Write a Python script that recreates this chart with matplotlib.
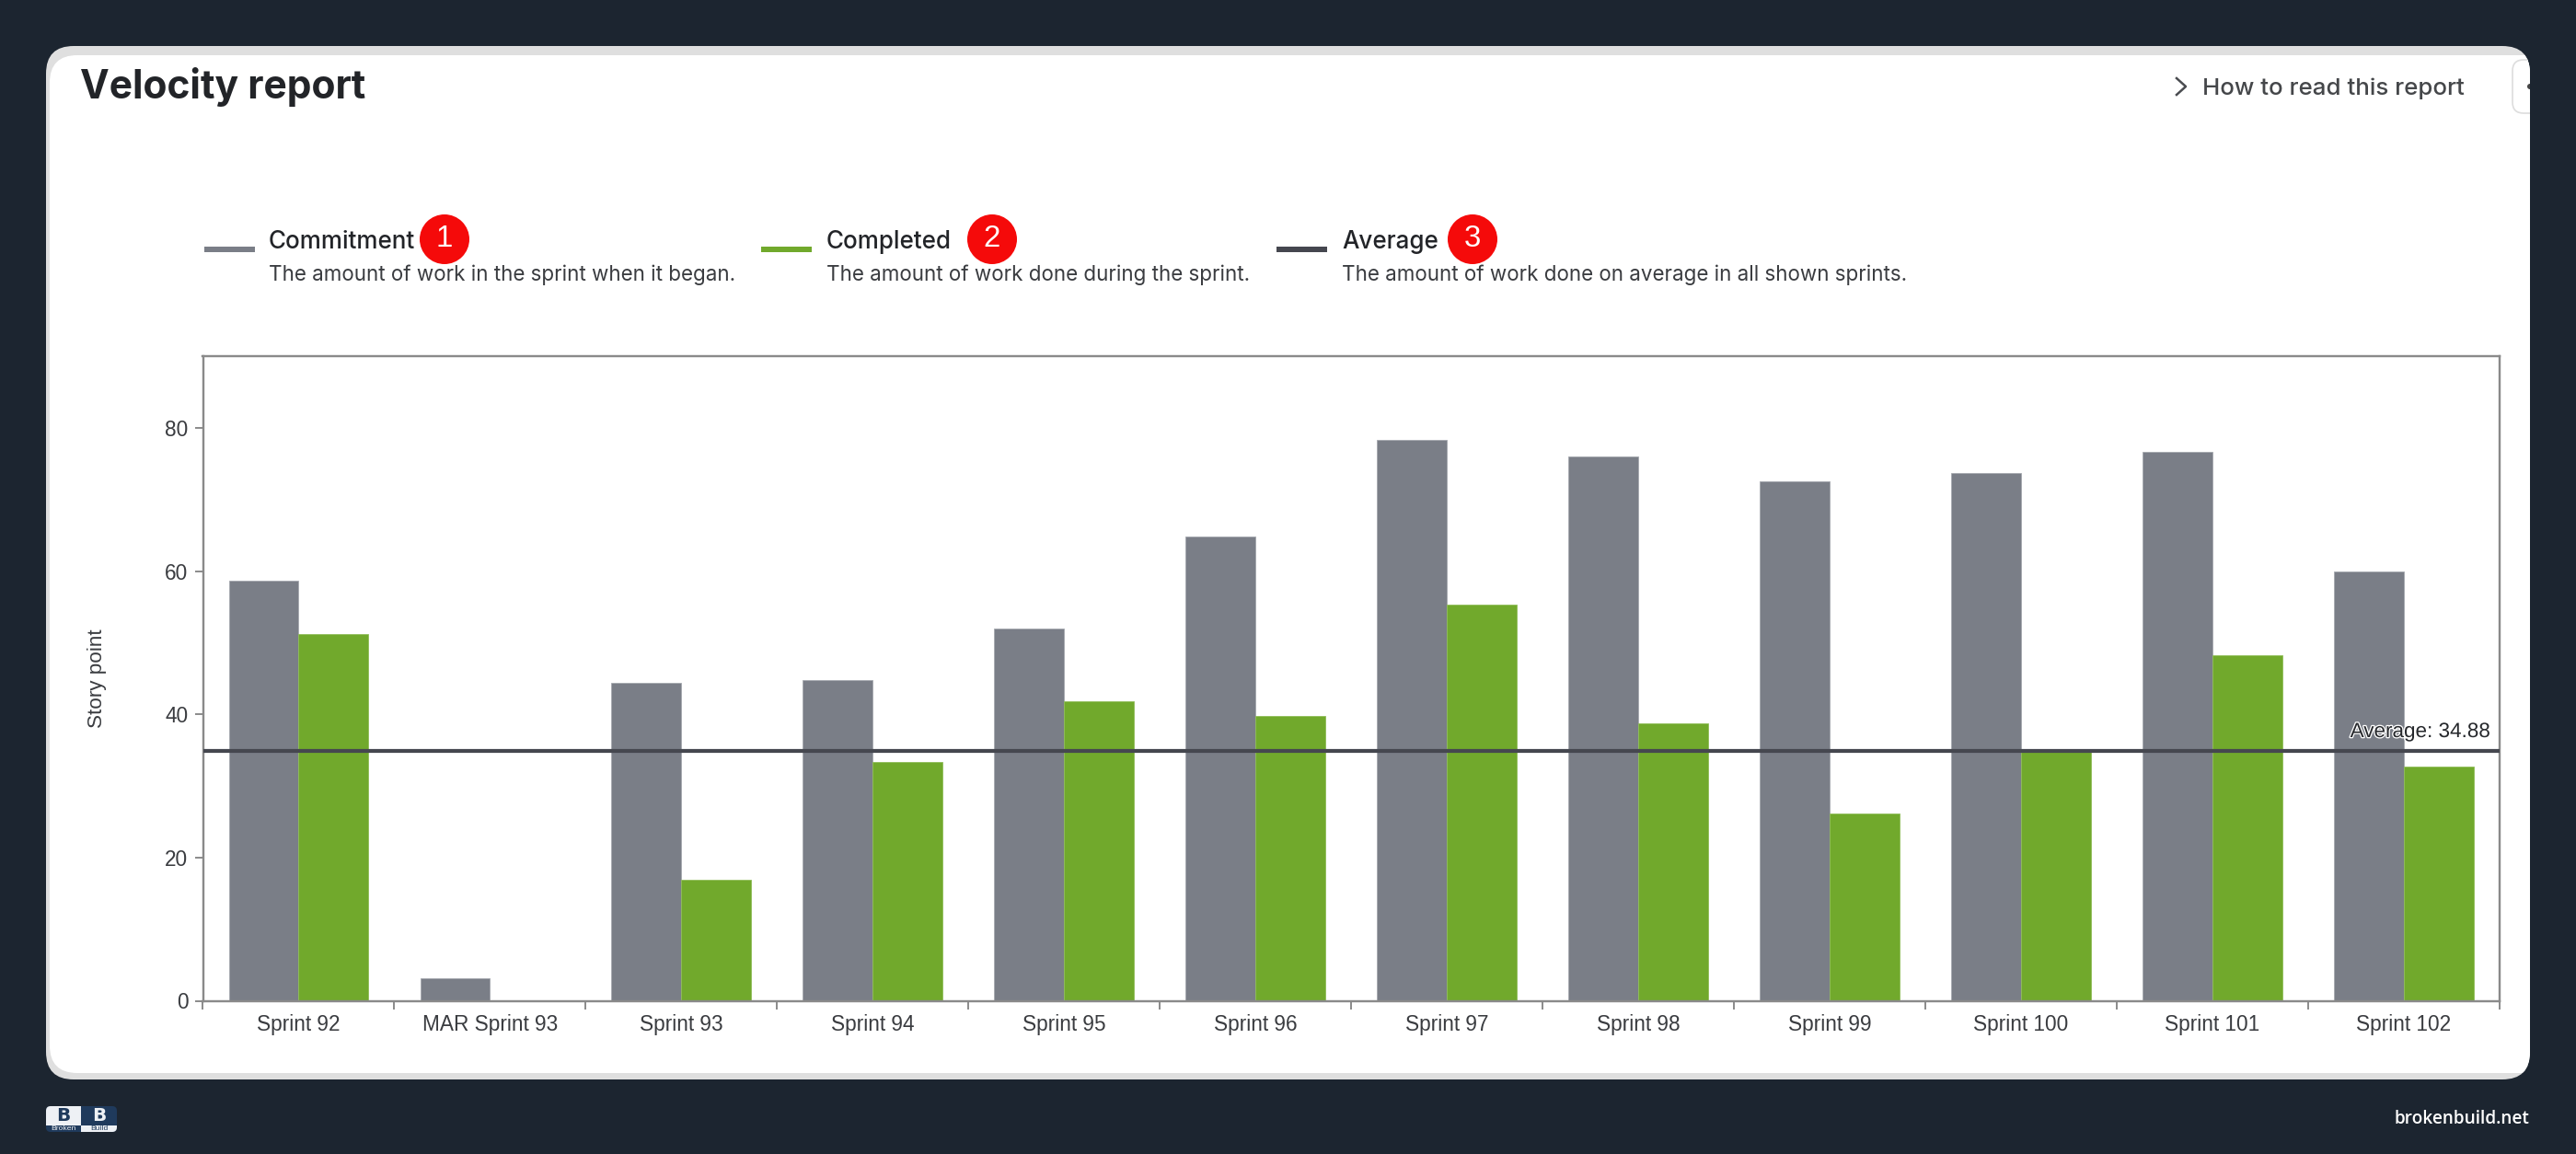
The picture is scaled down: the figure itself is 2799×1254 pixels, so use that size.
# coding: utf-8
""" velocity report screenshot, bars + average line """
import matplotlib
matplotlib.use('Agg')
import matplotlib.pyplot as plt
import matplotlib.patheffects as pe
from matplotlib.patches import FancyBboxPatch, Circle, Rectangle
import numpy as np

sprints = ['Sprint 92', 'MAR Sprint 93', 'Sprint 93', 'Sprint 94', 'Sprint 95', 'Sprint 96',
           'Sprint 97', 'Sprint 98', 'Sprint 99', 'Sprint 100', 'Sprint 101', 'Sprint 102']
commitment = [58.6, 3.1, 44.4, 44.8, 52.0, 64.8, 78.3, 76.0, 72.5, 73.7, 76.7, 60.0]
completed = [51.2, 0, 16.9, 33.4, 41.8, 39.8, 55.3, 38.8, 26.2, 34.7, 48.2, 32.7]
average = 34.88
y_ticks = [0, 20, 40, 60, 80]

legend_names = ['Commitment', 'Completed', 'Average']
legend_desc = ['The amount of work in the sprint when it began.',
               'The amount of work done during the sprint.',
               'The amount of work done on average in all shown sprints.']

W, H = 2799, 1254
GREY, GREEN, DARK = '#7a7e87', '#71a92c', '#45474f'
BG = '#1c2530'
INK = '#222428'
NAVY = '#1f3a5c'
PALE = '#eef1f5'
UI = ['Inter', 'DejaVu Sans']
CHART = ['Liberation Sans', 'DejaVu Sans']


def pt(px):
    return px * 72 / 100


fig = plt.figure(figsize=(W / 100, H / 100), dpi=100, facecolor=BG)

# page layer, works in image pixels
bg = fig.add_axes([0, 0, 1, 1], zorder=0)
bg.set_xlim(0, W)
bg.set_ylim(H, 0)
bg.axis('off')

card = FancyBboxPatch((50 + 30, 50 + 30), 2699 - 60, 1123 - 60, boxstyle='round,pad=30,rounding_size=30',
                      fc='#dfdfdf', ec='none')
bg.add_patch(card)
inner = FancyBboxPatch((54 + 30, 60 + 30), 2720 - 60, 1106 - 60, boxstyle='round,pad=30,rounding_size=30',
                       fc='white', ec='none')
bg.add_patch(inner)
inner.set_clip_path(card)

bg.text(87, 107, 'Velocity report', family=UI, fontsize=pt(42.5), weight='bold', color=INK, va='baseline')

# how to read link + clipped button
bg.plot([2365, 2375, 2365], [85, 94, 103], color='#4a4c50', lw=1.8)
bg.text(2393, 103, 'How to read this report', family=UI, fontsize=pt(25.9), weight='medium',
        color='#45474a', va='baseline')
btn = FancyBboxPatch((2738, 73), 40, 42, boxstyle='round,pad=8,rounding_size=12', fc='white', ec='#dddddd', lw=1.2)
bg.add_patch(btn)
btn.set_clip_path(card)
dot = Circle((2749, 94), 3, fc='#444444', ec='none')
bg.add_patch(dot)
dot.set_clip_path(card)

# legend
swatch_x = [222, 827, 1387]
text_x = [292, 898, 1458]
badge_x = [483, 1078, 1600]
swatch_col = [GREY, GREEN, DARK]
for i in range(3):
    bg.add_patch(Rectangle((swatch_x[i], 268), 55, 6, fc=swatch_col[i], ec='none'))
    bg.text(text_x[i], 270, legend_names[i], family=UI, fontsize=pt(26), weight='medium', color=INK, va='baseline')
    bg.text(text_x[i], 305, legend_desc[i], family=UI, fontsize=pt(22.4), color='#3a3c40', va='baseline')
    bg.add_patch(Circle((badge_x[i], 260), 27, fc='#f50a0a', ec='none', zorder=4))
    bg.text(badge_x[i], 260, str(i + 1), family=CHART, fontsize=pt(33), color='white', ha='center',
            va='center', zorder=5)

# footer logo
logo = FancyBboxPatch((54, 1206), 69, 20, boxstyle='round,pad=4,rounding_size=5', fc=NAVY, ec='none')
bg.add_patch(logo)
for r in [Rectangle((50, 1202), 38, 21, fc=PALE, ec='none'), Rectangle((88, 1223), 39, 7, fc=PALE, ec='none')]:
    bg.add_patch(r)
    r.set_clip_path(logo)
bg.text(69, 1212.5, 'B', family=['DejaVu Sans'], weight='bold', fontsize=pt(20), color=NAVY, ha='center', va='center')
bg.text(108, 1212.5, 'B', family=['DejaVu Sans'], weight='bold', fontsize=pt(20), color=PALE, ha='center', va='center')
bg.text(69, 1226.3, 'Broken', family=CHART, fontsize=pt(8.5), color=PALE, ha='center', va='center')
bg.text(108, 1226.3, 'Build', family=CHART, fontsize=pt(8.5), color=NAVY, ha='center', va='center')
bg.text(2748, 1221, 'brokenbuild.net', family=['Open Sans', 'DejaVu Sans'], weight='semibold', fontsize=pt(19),
        color='white', ha='right', va='baseline')

# chart
x0, x1, y0, y1 = 220.5, 2716, 387, 1087.5
ax = fig.add_axes([x0 / W, 1 - y1 / H, (x1 - x0) / W, (y1 - y0) / H], zorder=1)
ax.patch.set_alpha(0)
x = np.arange(len(sprints))
bar_w = 0.365
ax.bar(x - bar_w / 2, commitment, bar_w, color=GREY, edgecolor='#a5a8ae', linewidth=0.6)
ax.bar(x + bar_w / 2, completed, bar_w, color=GREEN, edgecolor='#8fbd58', linewidth=0.6)
ax.axhline(average, color=DARK, lw=pt(4.2), zorder=5)
ax.set_xlim(-0.5, len(sprints) - 0.5)
ax.set_ylim(0, 90)

ax.set_xticks(np.arange(len(sprints) + 1) - 0.5)
ax.set_xticklabels([])
ax.set_xticks(x, minor=True)
ax.set_xticklabels(sprints, minor=True, family=CHART, fontsize=pt(22.6), color='#3a3c40')
ax.tick_params(axis='x', which='major', length=pt(9), width=1.4, color='#8a8a8a')
ax.tick_params(axis='x', which='minor', length=0, pad=pt(14.5))
ax.set_yticks(y_ticks)
ax.set_yticklabels([str(v) for v in y_ticks], family=CHART, fontsize=pt(22.6), color='#3a3c40')
ax.tick_params(axis='y', length=pt(9), width=1.4, color='#8a8a8a', pad=pt(7))
for s in ax.spines.values():
    s.set_color('#8a8a8a')
    s.set_linewidth(pt(2.4))
ax.set_ylabel('Story point', family=CHART, fontsize=pt(22.5), color='#3a3c40', labelpad=pt(63))

ax.annotate('Average: %.2f' % average, xy=(1, average), xycoords=('axes fraction', 'data'),
            xytext=(-pt(10), pt(15)), textcoords='offset points', ha='right', va='baseline',
            family=CHART, fontsize=pt(22.5), color='#26282c', zorder=6,
            path_effects=[pe.withStroke(linewidth=pt(2.6), foreground='white')])

fig.savefig('out.png', dpi=100, facecolor=BG)
